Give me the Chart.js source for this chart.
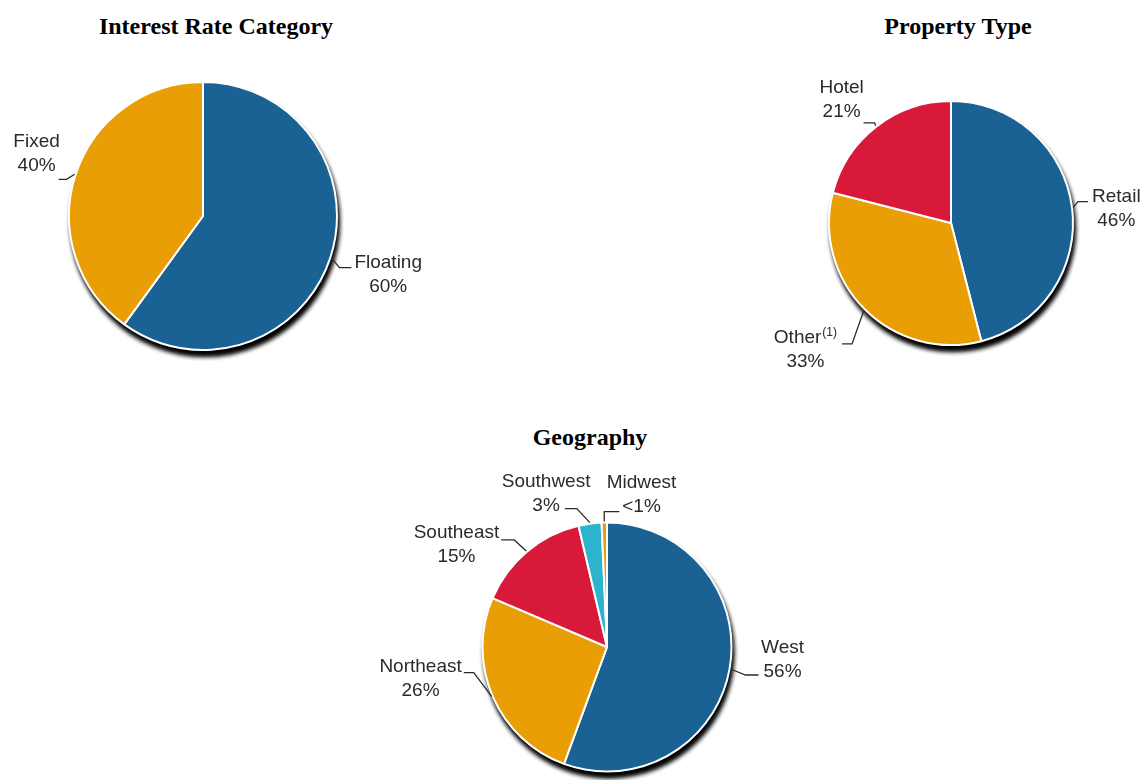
<!DOCTYPE html>
<html>
<head>
<meta charset="utf-8">
<script src="https://cdn.jsdelivr.net/npm/chart.js@4.4.1/dist/chart.umd.min.js"></script>
<style>
  html, body { margin: 0; padding: 0; background: #fff; width: 1141px; height: 780px; overflow: hidden; }
  body { position: relative; }
  .title { position: absolute; font: bold 24px "Liberation Serif", "Times New Roman", serif; line-height: 24px; color: #000; text-align: center; white-space: nowrap; }
  canvas { position: absolute; }
</style>
</head>
<body>
<div class="title" style="left:16px;top:14px;width:400px">Interest Rate Category</div>
<div class="title" style="left:808px;top:14px;width:300px">Property Type</div>
<div class="title" style="left:440px;top:425px;width:300px">Geography</div>

<canvas id="rateChart" width="460" height="330" style="left:-27px;top:51px"></canvas>
<canvas id="propertyChart" width="380" height="330" style="left:761px;top:58px"></canvas>
<canvas id="geoChart" width="480" height="380" style="left:367px;top:457px"></canvas>

<script>
// interest rate category
const rateLabels = ['Floating', 'Fixed'];
const rateValues = [60, 40];
const rateText = ['60%', '40%'];

// property type
const propertyLabels = ['Retail', 'Other', 'Hotel'];
const propertyNotes = ['', '(1)', ''];
const propertyValues = [46, 33, 21];
const propertyText = ['46%', '33%', '21%'];

// geography
const geoLabels = ['West', 'Northeast', 'Southeast', 'Southwest', 'Midwest'];
const geoValues = [56, 26, 15, 3, 0.7];
const geoText = ['56%', '26%', '15%', '3%', '<1%'];

const BLUE = '#1b6294';
const ORANGE = '#e99e05';
const RED = '#d8193a';
const CYAN = '#2db4cd';

const mainFont = '19px "Liberation Sans", Arial, sans-serif';
const supFont = '12px "Liberation Sans", Arial, sans-serif';

// shadow under the pie + labels with little leader lines
function pieDecor(names, notes, pct, leaders) {
  return {
    id: 'pieDecor',
    beforeDatasetsDraw(chart) {
      const arc = chart.getDatasetMeta(0).data[0];
      const ctx = chart.ctx;
      ctx.save();
      ctx.shadowColor = 'rgba(0,0,0,0.95)';
      ctx.shadowBlur = 5;
      ctx.shadowOffsetX = 2;
      ctx.shadowOffsetY = 6;
      ctx.fillStyle = '#fff';
      ctx.beginPath();
      ctx.arc(arc.x, arc.y, arc.outerRadius, 0, Math.PI * 2);
      ctx.fill();
      ctx.fill();
      ctx.restore();
    },
    afterDatasetsDraw(chart) {
      const ctx = chart.ctx;
      const rowWidth = (r) => {
        ctx.font = mainFont;
        let w = ctx.measureText(r.text).width;
        if (r.sup) {
          ctx.font = supFont;
          w += 1 + ctx.measureText(r.sup).width;
        }
        return w;
      };
      chart.getDatasetMeta(0).data.forEach((arc, i) => {
        const lay = leaders[i];
        const mid = (arc.startAngle + arc.endAngle) / 2;
        const ax = arc.x + Math.cos(mid) * (arc.outerRadius + 1);
        const ay = arc.y + Math.sin(mid) * (arc.outerRadius + 1);
        const ex = ax + lay.ex;
        const ey = ay + lay.ey;
        const dir = lay.side === 'right' ? 1 : -1;
        const endX = ex + dir * lay.h;

        ctx.save();
        ctx.strokeStyle = '#2b2b2b';
        ctx.lineWidth = 1.3;
        ctx.beginPath();
        ctx.moveTo(ax, ay);
        ctx.lineTo(ex, ey);
        ctx.lineTo(endX, ey);
        ctx.stroke();

        const rows = [{ text: names[i], sup: notes ? notes[i] : '' }, { text: pct[i] }];
        const wA = rowWidth(rows[lay.row]);
        const gap = lay.gap == null ? 3 : lay.gap;
        const centerX = endX + dir * (gap + wA / 2);
        const baseA = ey - lay.by;
        ctx.fillStyle = '#2b2b2b';
        ctx.textBaseline = 'alphabetic';
        ctx.textAlign = 'left';
        rows.forEach((r, k) => {
          const w = rowWidth(r);
          const x0 = centerX - w / 2;
          const y = baseA + (k - lay.row) * 24;
          ctx.font = mainFont;
          ctx.fillText(r.text, x0, y);
          if (r.sup) {
            const tw = ctx.measureText(r.text).width;
            ctx.font = supFont;
            ctx.fillText(r.sup, x0 + tw + 1, y - 7);
          }
        });
        ctx.restore();
      });
    }
  };
}

function makePie(id, labels, values, colors, radius, plugin) {
  return new Chart(document.getElementById(id), {
    type: 'pie',
    data: {
      labels: labels,
      datasets: [{
        data: values,
        backgroundColor: colors,
        borderColor: '#ffffff',
        borderWidth: 2
      }]
    },
    options: {
      responsive: false,
      animation: false,
      radius: radius,
      layout: { padding: 0 },
      plugins: {
        legend: { display: false },
        tooltip: { enabled: false }
      }
    },
    plugins: [plugin]
  });
}

makePie('rateChart', rateLabels, rateValues, [BLUE, ORANGE], 134,
  pieDecor(rateLabels, null, rateText, [
    { side: 'right', row: 0, ex: 8, ey: 10, h: 12, by: 0 },
    { side: 'left', row: 1, ex: -8, ey: 5, h: 8, by: 8 }
  ]));

makePie('propertyChart', propertyLabels, propertyValues, [BLUE, ORANGE, RED], 122,
  pieDecor(propertyLabels, propertyNotes, propertyText, [
    { side: 'right', row: 0, ex: 5, ey: -6, h: 10, by: 0, gap: 4 },
    { side: 'left', row: 0, ex: -12, ey: 34, h: 10, by: 1, gap: 5 },
    { side: 'left', row: 1, ex: -1, ey: -3, h: 11, by: 6 }
  ]));

makePie('geoChart', geoLabels, geoValues, [BLUE, ORANGE, RED, CYAN, ORANGE], 124.5,
  pieDecor(geoLabels, null, geoText, [
    { side: 'right', row: 1, ex: 15, ey: 6, h: 13, by: -2, gap: 5 },
    { side: 'left', row: 0, ex: -18, ey: -24, h: 10, by: 1, gap: 2 },
    { side: 'left', row: 0, ex: -12, ey: -11, h: 13, by: 2, gap: 2 },
    { side: 'left', row: 1, ex: -13, ey: -14, h: 12, by: -2, gap: 5 },
    { side: 'right', row: 1, ex: 0, ey: -10, h: 15, by: 0 }
  ]));
</script>
</body>
</html>
